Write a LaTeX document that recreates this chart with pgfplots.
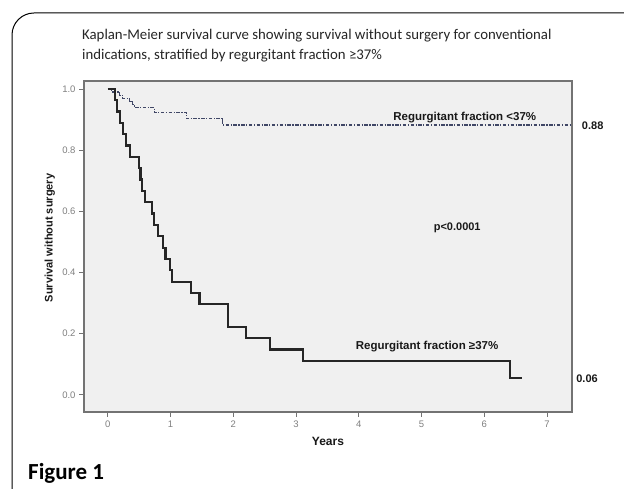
\documentclass[border=0pt]{standalone}
\usepackage{fontspec}
\setmainfont{Liberation Sans}
\newfontfamily\calibri{Carlito}
\usepackage{pgfplots}
\pgfplotsset{compat=1.18}
\definecolor{dashc}{rgb}{0.25,0.28,0.40}
\begin{document}
\begin{tikzpicture}[x=1pt,y=1pt]
\useasboundingbox (0,0) rectangle (624,489);
\fill[white] (0,0) rectangle (624,489);
\draw[black, line width=1pt] (12,0) -- (12,454) arc[start angle=180,end angle=90,radius=22] -- (624,476);
\node[anchor=base west, font=\calibri\fontsize{14.8}{16}\selectfont, text=black!85, inner sep=0] at (82,449) {Kaplan-Meier survival curve showing survival without surgery for conventional};
\node[anchor=base west, font=\calibri\fontsize{14.8}{16}\selectfont, text=black!85, inner sep=0] at (82,429) {indications, stratified by regurgitant fraction ≥37\%};
\node[anchor=base west, font=\calibri\bfseries\fontsize{23}{25}\selectfont, inner sep=0] at (28,9) {Figure 1};
\begin{axis}[
  at={(84pt,77pt)}, anchor=south west,
  width=488pt, height=331pt, scale only axis,
  xmin=-0.38, xmax=7.40, ymin=-0.056, ymax=1.026,
  axis background/.style={fill=black!6},
  axis line style={draw=black!55, line width=1.2pt},
  tick align=outside, tick pos=left, major tick length=5pt,
  tick style={black!55, line width=0.8pt},
  xtick={0,1,2,3,4,5,6,7}, ytick={0,0.2,0.4,0.6,0.8,1.0},
  yticklabel style={/pgf/number format/.cd, fixed, fixed zerofill, precision=1},
  tick label style={font=\fontsize{9.5}{10}\selectfont, text=black!50},
  /pgf/number format/assume math mode=true,
  xlabel={Years},
  xlabel style={font=\bfseries\fontsize{12}{13}\selectfont, text=black!90, at={(axis description cs:0.5,-0.088)}, anchor=center},
  ylabel={Survival without surgery},
  ylabel style={font=\bfseries\fontsize{11}{12}\selectfont, text=black!90, at={(axis description cs:-0.07,0.526)}, anchor=center},
  clip=false,
]
\addplot[const plot, color=dashc, line width=1.1pt, dash pattern=on 3.5pt off 1.5pt on 1.2pt off 1.5pt] coordinates {
(0,1) (0.06,0.99) (0.19,0.98) (0.24,0.97) (0.35,0.96) (0.40,0.948) (0.43,0.938) (0.75,0.922) (1.26,0.902) (1.83,0.882) (7.40,0.882)};
\addplot[const plot, color=black!85, line width=2.2pt] coordinates {
(0,1) (0.11,0.963) (0.14,0.926) (0.19,0.889) (0.24,0.852) (0.29,0.815) (0.35,0.778) (0.50,0.741) (0.52,0.704) (0.54,0.667) (0.59,0.630) (0.71,0.593) (0.73,0.556) (0.80,0.519) (0.88,0.481) (0.92,0.444) (0.99,0.407) (1.02,0.370) (1.33,0.333) (1.46,0.296) (1.92,0.222) (2.20,0.185) (2.58,0.148) (3.11,0.111) (6.41,0.056) (6.60,0.056)};
\node[font=\bfseries\fontsize{11.5}{12}\selectfont, text=black!90] at (axis cs:5.69,0.908) {Regurgitant fraction <37\%};
\node[font=\bfseries\fontsize{11}{12}\selectfont, text=black!90] at (axis cs:5.57,0.546) {p<0.0001};
\node[font=\bfseries\fontsize{11.5}{12}\selectfont, text=black!90] at (axis cs:5.09,0.157) {Regurgitant fraction ≥37\%};
\node[font=\bfseries\fontsize{11}{12}\selectfont, text=black!90] at (axis cs:7.73,0.880) {0.88};
\node[font=\bfseries\fontsize{11}{12}\selectfont, text=black!90] at (axis cs:7.64,0.052) {0.06};
\end{axis}
\end{tikzpicture}
\end{document}
